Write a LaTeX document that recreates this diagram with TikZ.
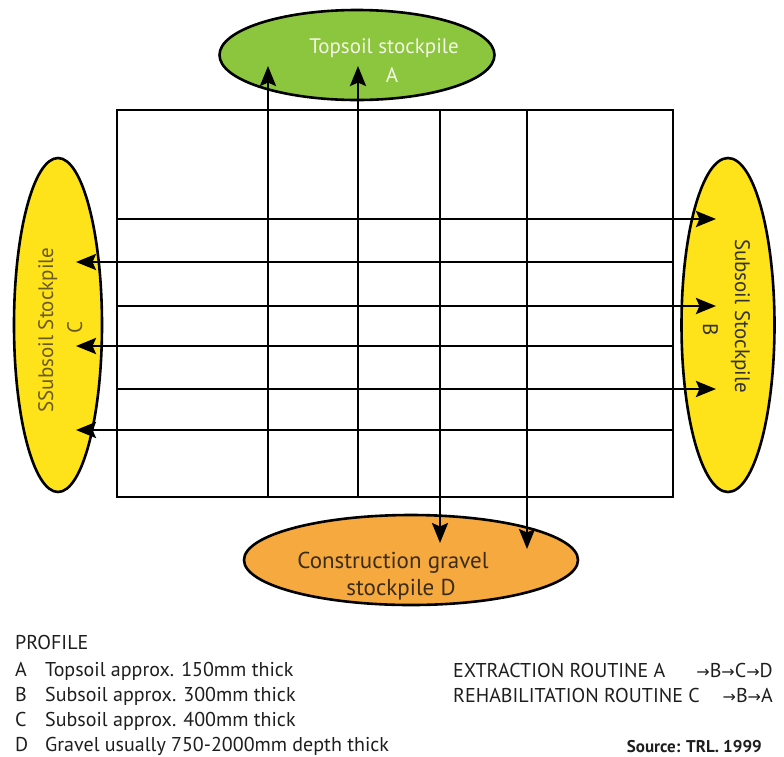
\documentclass[tikz,border=0pt]{standalone}
\usepackage{fontspec}
\setmainfont{PT Sans}
\newfontfamily\symf{DejaVu Sans}
\usetikzlibrary{shapes.geometric,arrows.meta}
\definecolor{topgreen}{HTML}{8CC63E}
\definecolor{subyellow}{HTML}{FFE31A}
\definecolor{gravorange}{HTML}{F6A93F}
\definecolor{toptext}{HTML}{F4F4E6}
\definecolor{ctext}{HTML}{6B5A1E}
\definecolor{btext}{HTML}{333333}
\definecolor{dtext}{HTML}{3A2C18}
\definecolor{legendgray}{HTML}{1E1E1E}
\newcommand{\rarr}{{\symf\fontsize{16}{16}\selectfont →}}
\begin{document}
\begin{tikzpicture}[x=1pt,y=-1pt,
  pile/.style={ellipse, draw=black, line width=2.6pt, inner sep=0pt},
  gridbox/.style={draw=black, line width=2.7pt, inner sep=0pt},
  flow/.style={line width=2.7pt, -{Stealth[length=20pt,width=16pt,inset=3.5pt]}},
  lbl/.style={inner sep=0pt, font=\fontsize{21}{21}\selectfont},
  biglbl/.style={inner sep=0pt, font=\fontsize{23}{23}\selectfont},
  legend/.style={inner sep=0pt, anchor=base west, font=\fontsize{20}{24}\selectfont, text=legendgray},
]
\useasboundingbox (0,0) rectangle (784,756);

% stockpiles
\node[pile, fill=topgreen, minimum width=275pt, minimum height=90pt] (topA) at (357,55) {};
\node[pile, fill=subyellow, minimum width=88pt, minimum height=334pt] (subC) at (58,325) {};
\node[pile, fill=subyellow, minimum width=93pt, minimum height=334pt] (subB) at (728,325) {};
\node[pile, fill=gravorange, minimum width=334pt, minimum height=90pt] (gravD) at (411,560) {};

% grid outline
\node[gridbox, minimum width=556pt, minimum height=387pt] (grid) at (395,303.5) {};

% line end points
\coordinate (v1s) at (268,497); \coordinate (v1e) at (268,66);
\coordinate (v2s) at (358,497); \coordinate (v2e) at (358,66);
\coordinate (v3s) at (440,110); \coordinate (v3e) at (440,543);
\coordinate (v4s) at (527,110); \coordinate (v4e) at (527,549);
\coordinate (h1s) at (117,219); \coordinate (h1e) at (716,219);
\coordinate (h2s) at (673,262); \coordinate (h2e) at (76,262);
\coordinate (h3s) at (117,306); \coordinate (h3e) at (716,306);
\coordinate (h4s) at (673,346); \coordinate (h4e) at (76,346);
\coordinate (h5s) at (117,389); \coordinate (h5e) at (716,389);
\coordinate (h6s) at (673,430); \coordinate (h6e) at (76,430);

\foreach \n in {v1,v2,v3,v4,h1,h2,h3,h4,h5,h6}
  \draw[flow] (\n s) -- (\n e);

% stockpile labels
\node[lbl, text=toptext, anchor=base] (tA1) at (384,53) {Topsoil stockpile};
\node[lbl, text=toptext, anchor=base] (tA2) at (392,82) {A};
\node[lbl, text=ctext, rotate=90, anchor=base] (tC1) at (53,330) {SSubsoil Stockpile};
\node[lbl, text=ctext, rotate=90, anchor=base] (tC2) at (82,327) {C};
\node[lbl, text=btext, rotate=-90, anchor=base] (tB1) at (735,316) {Subsoil Stockpile};
\node[lbl, text=btext, rotate=-90, anchor=base] (tB2) at (703,330) {B};
\node[biglbl, text=dtext, anchor=base] (tD1) at (393,568) {Construction gravel};
\node[biglbl, text=dtext, anchor=base] (tD2) at (401,595) {stockpile D};

% legend
\node[legend] (prof) at (15,649) {PROFILE};
\node[legend] (la) at (15,676) {A};
\node[legend] (lat) at (45,676) {Topsoil approx. 150mm thick};
\node[legend] (lb) at (15,701) {B};
\node[legend] (lbt) at (45,701) {Subsoil approx. 300mm thick};
\node[legend] (lc) at (15,726) {C};
\node[legend] (lct) at (45,726) {Subsoil approx. 400mm thick};
\node[legend] (ld) at (15,751) {D};
\node[legend] (ldt) at (45,751) {Gravel usually 750-2000mm depth thick};

\node[legend] (ex) at (453,677) {EXTRACTION ROUTINE A};
\node[legend, anchor=base east] (exr) at (773,677) {\rarr B\rarr C\rarr D};
\node[legend] (re) at (453,702) {REHABILITATION ROUTINE C};
\node[legend, anchor=base east] (rer) at (773,702) {\rarr B\rarr A};
\node[legend, anchor=base east, font=\fontsize{17}{20}\selectfont\bfseries] (src) at (762,752) {Source: TRL. 1999};
\end{tikzpicture}
\end{document}
